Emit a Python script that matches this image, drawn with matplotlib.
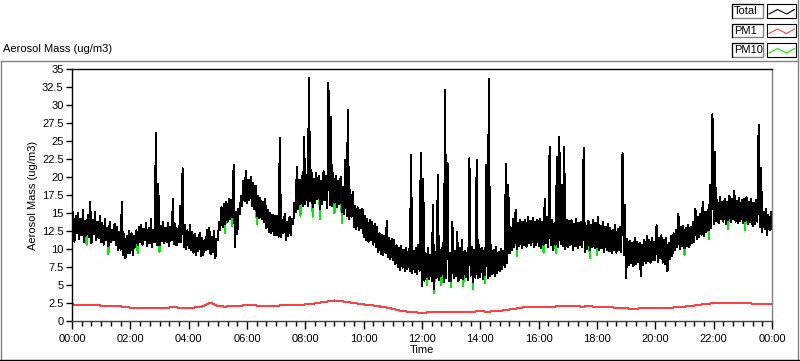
import numpy as np
import matplotlib
matplotlib.use("Agg")
import matplotlib.pyplot as plt
from matplotlib.ticker import MultipleLocator, FixedLocator, FuncFormatter
from matplotlib.patches import Rectangle

plt.rcParams['font.family'] = ['Liberation Sans', 'DejaVu Sans']
plt.rcParams['font.size'] = 8

# Total aerosol mass, read from the chart as the low / high value
# inside each 5-minute bin (12 bins per hour)
total_hi = [
    15.1, 14.6, 15.0, 14.2, 15.4, 13.9, 14.8, 16.5, 14.1, 15.2, 13.8, 14.6,   # 00h
    13.6, 14.2, 12.9, 13.8, 12.7, 13.5, 13.0, 12.4, 16.6, 12.1, 11.8, 12.5,   # 01h
    12.2, 11.8, 12.6, 13.1, 13.4, 12.8, 13.6, 12.9, 14.2, 12.7, 26.1, 19.0,   # 02h
    13.2, 13.8, 12.9, 13.6, 13.1, 17.0, 13.5, 12.8, 16.0, 21.2, 13.4, 12.6,   # 03h
    13.3, 12.4, 12.1, 11.6, 12.3, 11.5, 11.2, 12.6, 12.9, 11.7, 12.5, 11.4,   # 04h
    13.8, 15.8, 16.2, 16.5, 17.0, 16.8, 21.7, 15.2, 15.6, 17.4, 19.5, 20.9,   # 05h
    19.6, 20.0, 19.2, 18.8, 17.4, 17.1, 16.6, 16.9, 15.4, 15.0, 14.8, 14.6,   # 06h
    14.6, 25.4, 14.1, 14.9, 13.8, 14.5, 14.2, 16.4, 21.4, 19.6, 20.2, 25.6,   # 07h
    20.3, 33.7, 21.0, 19.8, 20.6, 20.1, 19.4, 20.8, 20.2, 33.1, 28.4, 20.5,   # 08h
    20.1, 19.4, 20.0, 18.6, 22.4, 29.3, 18.2, 17.9, 16.0, 15.8, 15.4, 15.6,   # 09h
    14.6, 14.2, 14.0, 13.8, 13.5, 13.1, 12.2, 12.0, 11.8, 13.9, 11.6, 11.4,   # 10h
    11.2, 10.5, 10.1, 10.4, 9.9, 10.2, 10.0, 23.1, 9.8, 10.1, 10.6, 23.3,     # 11h
    19.8, 9.4, 10.1, 9.2, 16.1, 9.6, 20.3, 9.9, 10.8, 32.1, 21.9, 9.5,        # 12h
    13.8, 9.7, 12.4, 10.1, 11.2, 9.8, 9.5, 22.6, 10.3, 9.9, 22.4, 10.6,       # 13h
    10.2, 9.8, 21.7, 33.6, 10.5, 9.9, 10.3, 9.6, 10.0, 9.8, 21.8, 18.9,       # 14h
    13.0, 14.2, 15.4, 13.6, 14.1, 13.8, 14.0, 14.5, 13.9, 14.3, 13.7, 14.1,   # 15h
    14.2, 13.8, 17.0, 14.5, 24.2, 14.0, 13.6, 22.8, 25.6, 18.9, 24.2, 14.1,   # 16h
    13.9, 14.0, 13.5, 14.2, 13.6, 13.8, 24.0, 13.2, 13.9, 13.4, 14.1, 13.6,   # 17h
    14.5, 13.2, 13.7, 13.1, 13.5, 12.9, 12.6, 13.3, 12.8, 13.0, 23.3, 16.1,   # 18h
    11.4, 11.1, 10.8, 11.6, 11.0, 10.9, 10.6, 11.3, 11.8, 11.2, 11.5, 11.0,   # 19h
    13.3, 11.6, 11.9, 11.2, 11.5, 10.9, 11.8, 12.2, 12.6, 14.9, 13.0, 13.2,   # 20h
    12.9, 13.3, 13.1, 13.8, 15.6, 14.4, 14.9, 16.6, 15.1, 15.4, 18.9, 28.7,   # 21h
    23.5, 16.8, 17.2, 16.5, 17.0, 16.6, 17.4, 16.9, 18.1, 16.7, 17.1, 16.8,   # 22h
    16.9, 17.2, 16.6, 17.0, 16.4, 16.8, 27.2, 21.2, 15.2, 15.6, 14.8, 15.1,   # 23h
    14.0,
]
total_lo = [
    11.8, 11.0, 12.2, 11.4, 11.9, 10.9, 12.0, 11.6, 10.8, 12.1, 11.2, 11.5,   # 00h
    11.0, 10.6, 11.3, 10.4, 10.9, 11.2, 10.5, 9.8, 9.9, 9.2, 8.7, 9.5,        # 01h
    9.4, 9.1, 10.2, 10.5, 10.9, 10.6, 11.2, 10.4, 10.8, 10.3, 10.9, 10.6,     # 02h
    10.5, 11.1, 10.8, 10.9, 10.4, 11.2, 10.7, 10.5, 10.9, 11.0, 10.2, 10.0,   # 03h
    10.1, 9.9, 9.5, 9.2, 9.7, 9.0, 9.1, 9.8, 10.0, 9.3, 9.6, 8.7,             # 04h
    11.2, 12.6, 13.0, 13.4, 13.8, 14.1, 14.4, 10.3, 12.1, 14.8, 16.0, 16.6,   # 05h
    16.4, 16.8, 16.0, 15.5, 14.6, 14.3, 14.1, 13.8, 12.9, 12.4, 12.2, 11.9,   # 06h
    12.0, 11.7, 11.6, 12.2, 11.2, 11.8, 12.0, 13.4, 15.1, 15.6, 16.2, 16.0,   # 07h
    16.2, 15.9, 16.6, 15.8, 16.4, 16.9, 15.5, 16.2, 16.8, 15.7, 16.1, 16.0,   # 08h
    16.4, 15.8, 16.2, 15.1, 14.8, 14.6, 14.2, 14.5, 13.0, 12.8, 12.6, 12.9,   # 09h
    11.6, 11.3, 11.0, 11.2, 10.6, 10.2, 9.6, 9.3, 9.1, 9.4, 8.9, 8.6,         # 10h
    8.4, 7.9, 7.5, 7.1, 7.4, 6.9, 7.2, 7.0, 6.6, 6.8, 6.5, 7.0,               # 11h
    4.8, 5.6, 6.1, 5.8, 5.5, 4.4, 6.0, 5.7, 6.2, 5.4, 5.9, 5.6,               # 12h
    5.6, 5.9, 6.2, 5.5, 6.0, 5.8, 6.1, 5.7, 6.3, 5.4, 6.0, 5.9,               # 13h
    6.1, 5.8, 6.4, 6.0, 6.3, 6.5, 6.2, 6.6, 6.9, 7.2, 7.5, 8.0,               # 14h
    9.4, 9.8, 10.2, 10.0, 10.4, 10.1, 10.6, 10.3, 10.8, 10.5, 10.2, 10.6,     # 15h
    10.4, 10.1, 10.6, 10.8, 10.2, 10.5, 9.9, 10.6, 10.3, 10.7, 10.4, 10.0,    # 16h
    10.3, 10.6, 9.9, 10.4, 10.1, 10.5, 10.2, 9.6, 10.0, 9.8, 10.3, 10.1,      # 17h
    10.2, 9.8, 10.1, 9.6, 9.9, 9.7, 9.4, 9.9, 9.5, 9.8, 9.6, 9.2,             # 18h
    5.9, 7.8, 8.1, 7.6, 7.9, 8.2, 6.2, 7.7, 8.0, 8.3, 8.1, 8.4,               # 19h
    8.5, 8.2, 8.8, 8.1, 7.9, 6.9, 8.6, 9.0, 9.8, 10.2, 10.0, 10.4,            # 20h
    10.1, 10.4, 10.2, 10.8, 11.0, 11.4, 11.7, 12.0, 11.8, 12.3, 12.6, 12.9,   # 21h
    13.4, 13.9, 13.6, 14.1, 13.8, 13.5, 14.0, 13.7, 14.2, 13.8, 13.6, 13.9,   # 22h
    13.6, 13.9, 13.4, 13.7, 13.2, 13.5, 13.8, 13.1, 12.4, 12.8, 11.9, 12.6,   # 23h
    12.8,
]

# PM10 follows the total except where it shows below it (hour, value)
pm10_hours = [0.5, 1.25, 2.25, 3.0, 5.25, 5.5, 6.33, 7.83, 8.25, 8.5, 9.0, 9.25,
              12.17, 12.42, 12.67, 13.0, 13.42, 13.75, 14.17, 15.25, 16.17, 16.58,
              17.75, 18.0, 21.0, 21.83, 22.5, 23.08]
pm10_values = [10.6, 9.3, 9.4, 9.6, 12.2, 13.2, 13.4, 14.6, 14.5, 14.2, 15.0, 13.6,
               5.0, 3.9, 5.0, 4.7, 4.8, 4.5, 5.3, 9.0, 9.5, 9.4,
               8.7, 9.1, 9.2, 11.4, 12.8, 12.6]

# PM1, one value every 15 minutes
pm1 = [
    2.30, 2.25, 2.28, 2.20, 2.15, 2.12, 2.05, 2.00,
    1.85, 1.80, 1.78, 1.82, 1.80, 1.86, 1.90, 1.84,
    1.85, 1.88, 2.05, 2.55, 2.05, 2.00, 2.08, 2.12,
    2.20, 2.18, 2.10, 2.15, 2.12, 2.20, 2.18, 2.25,
    2.30, 2.40, 2.55, 2.70, 2.85, 2.75, 2.60, 2.45,
    2.30, 2.20, 2.05, 1.90, 1.70, 1.45, 1.30, 1.20,
    1.15, 1.20, 1.25, 1.20, 1.25, 1.30, 1.25, 1.30,
    1.35, 1.30, 1.35, 1.45, 1.60, 1.75, 1.90, 1.95,
    2.00, 1.95, 2.00, 2.05, 2.10, 2.05, 2.00, 2.05,
    1.95, 2.00, 1.90, 1.80, 1.75, 1.70, 1.75, 1.80,
    1.80, 1.85, 1.85, 1.90, 2.00, 2.10, 2.25, 2.40,
    2.45, 2.50, 2.55, 2.50, 2.50, 2.45, 2.35, 2.40,
    2.40,
]

xtick_labels = ['00:00', '02:00', '04:00', '06:00', '08:00', '10:00', '12:00',
                '14:00', '16:00', '18:00', '20:00', '22:00', '00:00']
legend_names = ['Total', 'PM1', 'PM10']
colors = ['#000000', '#ff4040', '#00ee00']


def interleave(lo, hi):
    # low value at the start of each 5-min bin, high value half way through
    t = np.arange(len(lo)) * 5 / 60.0
    x = np.column_stack([t, t + 2.5 / 60.0]).ravel()
    y = np.column_stack([lo, hi]).ravel()
    return x, y


pm10_lo = np.array(total_lo, dtype=float)
for h, v in zip(pm10_hours, pm10_values):
    pm10_lo[int(round(h * 12))] = v

x_tot, y_tot = interleave(total_lo, total_hi)
x_p10, y_p10 = interleave(pm10_lo, total_hi)
t_pm1 = np.arange(len(pm1)) * 15 / 60.0

fig = plt.figure(figsize=(8.0, 3.61), dpi=100)

# background frame and legend drawn in pixel coordinates
bg = fig.add_axes([0, 0, 1, 1], zorder=0)
bg.set_xlim(0, 800)
bg.set_ylim(361, 0)
bg.axis('off')
bg.plot([0.5, 0.5], [61, 361], color='#808080', lw=1)
bg.plot([0.5, 798], [61, 61], color='#808080', lw=1)
bg.plot([798, 798], [0, 361], color='#808080', lw=1)
bg.plot([0, 800], [360, 360], color='#000000', lw=1)
bg.text(3, 52, 'Aerosol Mass (ug/m3)', fontsize=8, va='baseline', ha='left')

for i, (name, c) in enumerate(zip(legend_names, colors)):
    y0 = 4 + i * 19.5
    bg.add_patch(Rectangle((732, y0), 31, 13.5, fill=False, ec='#808080', lw=1))
    bg.plot([732, 732, 763], [y0 + 13.5, y0, y0], color='#000000', lw=0.8)
    bg.text(734, y0 + 7, name, fontsize=8, va='center', ha='left')
    bg.add_patch(Rectangle((767, y0), 29, 13.5, fill=False, ec='#000000', lw=0.8))
    bg.plot([769, 777.5, 786.5, 794.5], [y0 + 10, y0 + 5.5, y0 + 10, y0 + 5.5],
            color=c, lw=0.8)

ax = fig.add_axes([0.09, 40 / 361, 0.875, 252 / 361], zorder=1)
ax.plot(x_p10, y_p10, color=colors[2], lw=0.72, antialiased=False)
ax.plot(x_tot, y_tot, color=colors[0], lw=0.72, antialiased=False)
ax.plot(t_pm1, pm1, color=colors[1], lw=0.72, antialiased=False)

ax.set_xlim(0, 24)
ax.set_ylim(0, 35)
ax.xaxis.set_major_locator(FixedLocator(np.arange(0, 25, 2)))
ax.set_xticklabels(xtick_labels)
ax.xaxis.set_minor_locator(MultipleLocator(1 / 3))
ax.yaxis.set_major_locator(MultipleLocator(2.5))
ax.yaxis.set_major_formatter(FuncFormatter(lambda v, p: f'{v:g}'))
ax.tick_params(axis='x', which='major', length=6, width=1, pad=3, labelsize=8)
ax.tick_params(axis='x', which='minor', length=3.5, width=1)
ax.tick_params(axis='y', length=4, width=1, pad=2, labelsize=8)
ax.set_xlabel('Time', fontsize=8, labelpad=1)
ax.set_ylabel('Aerosol Mass (ug/m3)', fontsize=8, labelpad=3)

ax.spines['left'].set_color('#000000')
ax.spines['top'].set_color('#000000')
ax.spines['right'].set_color('#808080')
ax.spines['bottom'].set_color('#404040')
for s in ax.spines.values():
    s.set_linewidth(1)

fig.savefig('out.png', dpi=100)
